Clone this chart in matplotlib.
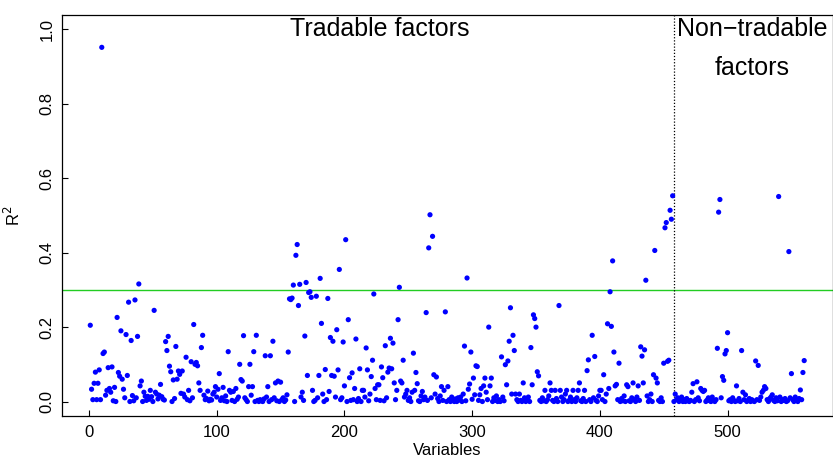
import numpy as np
import matplotlib
matplotlib.use("Agg")
from matplotlib import pyplot as plt

plt.rcParams['font.family'] = ['Liberation Sans', 'DejaVu Sans']

## DATA: R^2 of each variable, in index order (1..560)
r2 = [
    0.205, 0.033, 0.005, 0.049, 0.079, 0.005, 0.049, 0.085, 0.005, 0.952,
    0.129, 0.133, 0.017, 0.030, 0.091, 0.035, 0.025, 0.093, 0.002, 0.038,
    0.000, 0.226, 0.078, 0.068, 0.190, 0.060, 0.033, 0.010, 0.180, 0.070,
    0.267, 0.000, 0.164, 0.016, 0.002, 0.273, 0.010, 0.175, 0.316, 0.042,
    0.055, 0.000, 0.025, 0.014, 0.003, 0.014, 0.006, 0.030, 0.013, 0.000,
    0.245, 0.025, 0.020, 0.007, 0.017, 0.046, 0.013, 0.006, 0.004, 0.161,
    0.137, 0.175, 0.095, 0.080, 0.000, 0.058, 0.008, 0.148, 0.060, 0.082,
    0.073, 0.022, 0.082, 0.020, 0.012, 0.119, 0.005, 0.030, 0.002, 0.107,
    0.010, 0.207, 0.100, 0.105, 0.096, 0.050, 0.030, 0.145, 0.178, 0.017,
    0.005, 0.008, 0.028, 0.002, 0.006, 0.004, 0.020, 0.025, 0.040, 0.012,
    0.033, 0.075, 0.003, 0.010, 0.038, 0.002, 0.015, 0.000, 0.134, 0.030,
    0.025, 0.003, 0.027, 0.000, 0.035, 0.006, 0.012, 0.100, 0.059, 0.055,
    0.177, 0.010, 0.005, 0.000, 0.040, 0.100, 0.017, 0.040, 0.134, 0.000,
    0.178, 0.003, 0.000, 0.005, 0.002, 0.000, 0.007, 0.123, 0.012, 0.040,
    0.000, 0.123, 0.005, 0.162, 0.010, 0.050, 0.002, 0.055, 0.000, 0.052,
    0.005, 0.010, 0.000, 0.004, 0.018, 0.133, 0.276, 0.274, 0.278, 0.313,
    0.000, 0.393, 0.422, 0.258, 0.315, 0.012, 0.025, 0.003, 0.176, 0.320,
    0.070, 0.293, 0.295, 0.280, 0.030, 0.000, 0.003, 0.283, 0.010, 0.070,
    0.331, 0.210, 0.020, 0.000, 0.086, 0.005, 0.277, 0.027, 0.172, 0.070,
    0.162, 0.068, 0.012, 0.193, 0.085, 0.355, 0.005, 0.010, 0.160, 0.042,
    0.435, 0.000, 0.220, 0.064, 0.003, 0.077, 0.005, 0.035, 0.168, 0.000,
    0.008, 0.088, 0.000, 0.030, 0.030, 0.012, 0.144, 0.085, 0.002, 0.020,
    0.067, 0.111, 0.289, 0.035, 0.005, 0.045, 0.045, 0.003, 0.093, 0.064,
    0.002, 0.150, 0.010, 0.079, 0.090, 0.170, 0.088, 0.157, 0.050, 0.005,
    0.030, 0.220, 0.307, 0.055, 0.050, 0.111, 0.012, 0.020, 0.030, 0.003,
    0.010, 0.000, 0.025, 0.130, 0.030, 0.078, 0.048, 0.002, 0.000, 0.015,
    0.027, 0.005, 0.012, 0.239, 0.003, 0.413, 0.502, 0.010, 0.444, 0.072,
    0.020, 0.066, 0.008, 0.000, 0.015, 0.040, 0.003, 0.030, 0.241, 0.000,
    0.040, 0.005, 0.000, 0.012, 0.003, 0.000, 0.007, 0.000, 0.010, 0.004,
    0.012, 0.000, 0.020, 0.149, 0.002, 0.332, 0.033, 0.047, 0.133, 0.006,
    0.063, 0.018, 0.096, 0.094, 0.003, 0.018, 0.035, 0.000, 0.042, 0.063,
    0.025, 0.005, 0.200, 0.042, 0.063, 0.000, 0.010, 0.003, 0.015, 0.000,
    0.005, 0.000, 0.120, 0.012, 0.002, 0.099, 0.045, 0.109, 0.162, 0.252,
    0.020, 0.178, 0.137, 0.020, 0.005, 0.000, 0.020, 0.003, 0.000, 0.050,
    0.010, 0.000, 0.004, 0.012, 0.000, 0.145, 0.045, 0.233, 0.223, 0.200,
    0.080, 0.069, 0.003, 0.000, 0.010, 0.002, 0.030, 0.000, 0.005, 0.015,
    0.050, 0.030, 0.003, 0.000, 0.030, 0.008, 0.000, 0.258, 0.030, 0.012,
    0.000, 0.005, 0.020, 0.030, 0.000, 0.003, 0.012, 0.000, 0.030, 0.005,
    0.000, 0.010, 0.030, 0.050, 0.002, 0.000, 0.008, 0.030, 0.000, 0.083,
    0.112, 0.005, 0.000, 0.178, 0.010, 0.121, 0.003, 0.000, 0.015, 0.030,
    0.030, 0.005, 0.072, 0.000, 0.020, 0.209, 0.035, 0.295, 0.202, 0.378,
    0.133, 0.042, 0.046, 0.005, 0.103, 0.000, 0.008, 0.002, 0.015, 0.000,
    0.045, 0.040, 0.002, 0.000, 0.010, 0.050, 0.005, 0.000, 0.012, 0.042,
    0.003, 0.147, 0.122, 0.050, 0.139, 0.326, 0.015, 0.000, 0.005, 0.020,
    0.000, 0.072, 0.406, 0.063, 0.050, 0.003, 0.000, 0.010, 0.000, 0.103,
    0.467, 0.481, 0.108, 0.111, 0.514, 0.490, 0.553, 0.000, 0.020, 0.005,
    0.010, 0.000, 0.003, 0.012, 0.000, 0.005, 0.000, 0.008, 0.002, 0.000,
    0.003, 0.025, 0.048, 0.000, 0.005, 0.053, 0.010, 0.002, 0.035, 0.030,
    0.027, 0.030, 0.000, 0.004, 0.010, 0.002, 0.000, 0.012, 0.003, 0.000,
    0.005, 0.143, 0.509, 0.543, 0.010, 0.067, 0.057, 0.128, 0.137, 0.185,
    0.002, 0.005, 0.000, 0.010, 0.003, 0.000, 0.042, 0.002, 0.008, 0.000,
    0.137, 0.025, 0.005, 0.018, 0.000, 0.003, 0.008, 0.000, 0.005, 0.002,
    0.000, 0.109, 0.005, 0.097, 0.003, 0.012, 0.025, 0.030, 0.040, 0.035,
    0.005, 0.000, 0.008, 0.012, 0.018, 0.003, 0.000, 0.010, 0.002, 0.551,
    0.012, 0.000, 0.005, 0.003, 0.008, 0.000, 0.002, 0.403, 0.010, 0.075,
    0.005, 0.000, 0.012, 0.003, 0.000, 0.008, 0.031, 0.005, 0.078, 0.110,
]
threshold = 0.3        # green reference line
n_tradable = 458       # split between tradable / non-tradable factors
x_ticks = [0, 100, 200, 300, 400, 500]
y_ticks = [0.0, 0.2, 0.4, 0.6, 0.8, 1.0]
## END DATA

x = np.arange(1, len(r2) + 1)

fig = plt.figure(figsize=(8.33, 4.62), dpi=100)
ax = fig.add_axes([0.0741, 0.0987, 0.9256, 0.8697])

ax.scatter(x, r2, s=14, c="blue", edgecolors="none", zorder=3)
ax.axhline(threshold, color="#22cc22", lw=1.0, zorder=2)
ax.axvline(n_tradable, color="black", lw=0.9, ls=(0, (1, 1.5)), zorder=2)

# R-style axis ranges (4% padding)
span = len(r2) - 1
ax.set_xlim(1 - 0.04 * span, len(r2) + 0.04 * span)
ax.set_ylim(-0.04, 1.04)

ax.set_xticks(x_ticks)
ax.set_xticklabels([str(t) for t in x_ticks])
ax.set_yticks(y_ticks)
ax.set_yticklabels(["%.1f" % t for t in y_ticks], rotation=90, va="center")
ax.tick_params(direction="in", length=4, width=0.8, labelsize=12)
ax.tick_params(axis="x", pad=6)
ax.tick_params(axis="y", pad=5)

for s in ax.spines.values():
    s.set_linewidth(0.9)

ax.set_xlabel("Variables", fontsize=12, labelpad=2)
ax.set_ylabel("R$^2$", fontsize=12, labelpad=12)

ax.text(228, 1.0, "Tradable factors", fontsize=18, ha="center", va="center")
ax.text(519, 1.001, "Non\u2212tradable", fontsize=18, ha="center", va="center")
ax.text(519, 0.896, "factors", fontsize=18, ha="center", va="center")

fig.savefig("out.png", dpi=100)
